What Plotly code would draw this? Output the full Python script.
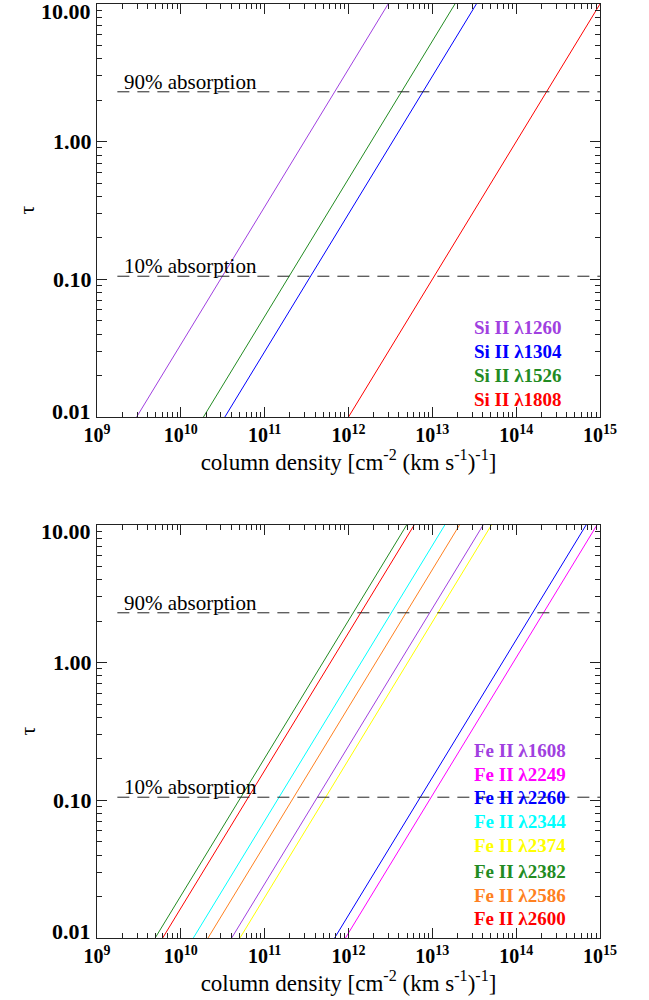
import plotly.graph_objects as go
from plotly.subplots import make_subplots
import math

# ---- data (column density at tau = 0.01) ----
si_labels = ["Si II λ1260", "Si II λ1304", "Si II λ1526", "Si II λ1808"]
si_n_at_tau001 = [2.97e9, 3.35e10, 1.86e10, 1.0e12]
si_colors = ["#a040e0", "#0000ff", "#228b22", "#ff0000"]

fe_labels = ["Fe II λ1608", "Fe II λ2249", "Fe II λ2260", "Fe II λ2344",
             "Fe II λ2374", "Fe II λ2382", "Fe II λ2586", "Fe II λ2600"]
fe_n_at_tau001 = [4.04e10, 9.2e11, 6.83e11, 1.41e10, 5.07e10, 4.94e9, 2.11e10, 6.07e9]
fe_colors = ["#a040e0", "#ff00ff", "#0000ff", "#00ffff",
             "#ffff00", "#228b22", "#ff8020", "#ff0000"]

tau_range = [0.01, 10.0]
tau_90 = math.log(10.0)          # 90% absorption
tau_10 = -math.log(0.9)          # 10% absorption
dash_x = [1.75e9, 1e15]

x_tickvals = [1e9, 1e10, 1e11, 1e12, 1e13, 1e14, 1e15]
x_ticktext = ["10<sup>9</sup>", "10<sup>10</sup>", "10<sup>11</sup>", "10<sup>12</sup>",
              "10<sup>13</sup>", "10<sup>14</sup>", "10<sup>15</sup>"]
y_tickvals = [0.01, 0.1, 1, 10]
y_ticktext = ["0.01", "0.10", "1.00", "10.00"]

FONT = "Liberation Serif, Times New Roman, serif"

fig = make_subplots(rows=2, cols=1, vertical_spacing=0.0)

def add_panel(row, labels, n0s, colors):
    for lab, n0, col in zip(labels, n0s, colors):
        xs = [n0 * t / tau_range[0] for t in tau_range]
        fig.add_trace(go.Scatter(x=xs, y=tau_range, mode="lines",
                                 line=dict(color=col, width=1), name=lab,
                                 showlegend=False, hoverinfo="skip"), row=row, col=1)
    for t in (tau_90, tau_10):
        fig.add_trace(go.Scatter(x=dash_x, y=[t, t], mode="lines",
                                 line=dict(color="#222222", width=1, dash="12px,8px"),
                                 showlegend=False, hoverinfo="skip"), row=row, col=1)

add_panel(1, si_labels, si_n_at_tau001, si_colors)
add_panel(2, fe_labels, fe_n_at_tau001, fe_colors)

minor_x = [k * 10 ** e for e in range(9, 15) for k in range(2, 10)]
minor_y = [k * 10 ** e for e in range(-2, 1) for k in range(2, 10)]

axis_common = dict(type="log", showgrid=False, zeroline=False, showline=True,
                   linecolor="#222222", linewidth=1, mirror="allticks", automargin=False,
                   ticks="inside", ticklen=10, tickwidth=1, tickcolor="#222222")

# middle y tick labels drawn by the axis, end labels (nudged inward) as annotations
inner_text = ["" if v in (y_tickvals[0], y_tickvals[-1]) else t for v, t in zip(y_tickvals, y_ticktext)]

for r in (1, 2):
    fig.update_xaxes(range=[9, 15], tickmode="array", tickvals=x_tickvals, ticktext=x_ticktext,
                     minor=dict(tickmode="array", tickvals=minor_x, ticks="inside", ticklen=5,
                                tickcolor="#222222"),
                     tickfont=dict(family=FONT, size=20, color="black", weight="bold"),
                     title=dict(text="column density [cm<sup>-2</sup> (km s<sup>-1</sup>)<sup>-1</sup>]",
                                font=dict(family=FONT, size=23, color="black"), standoff=8),
                     **axis_common, row=r, col=1)
    fig.update_yaxes(range=[-2, 1], tickmode="array", tickvals=y_tickvals, ticktext=inner_text,
                     minor=dict(tickmode="array", tickvals=minor_y, ticks="inside", ticklen=5,
                                tickcolor="#222222"),
                     tickfont=dict(family=FONT, size=22, color="black", weight="bold"),
                     **axis_common, row=r, col=1)

# plot areas: top panel y=4..417 px, bottom panel y=525..938 px
fig.update_layout(
    yaxis=dict(domain=[0.5578, 1.0]),
    yaxis2=dict(domain=[0.0, 0.4422]),
)

annotations = []
for xref, yref in (("x", "y"), ("x2", "y2")):
    for t, txt in ((tau_90, "90% absorption"), (tau_10, "10% absorption")):
        annotations.append(dict(x=9.3, y=math.log10(t), xref=xref, yref=yref, text=txt,
                                showarrow=False, xanchor="left", yanchor="bottom", yshift=-4,
                                font=dict(family=FONT, size=21, color="black")))
    for v, txt, shift in ((y_tickvals[-1], y_ticktext[-1], -7), (y_tickvals[0], y_ticktext[0], 6)):
        annotations.append(dict(x=0, y=math.log10(v), xref=xref + " domain", yref=yref, text=txt,
                                showarrow=False, xanchor="right", yanchor="middle",
                                xshift=-4, yshift=shift,
                                font=dict(family=FONT, size=22, color="black", weight="bold")))
    # y-axis title (tau), rotated like an axis title
    annotations.append(dict(x=0, y=0.5, xref=xref + " domain", yref=yref + " domain", text="τ",
                            showarrow=False, textangle=-90, xanchor="center", yanchor="middle",
                            xshift=-70, font=dict(family=FONT, size=22, color="black")))

si_y = [0.2179, 0.1598, 0.1017, 0.0436]
for lab, col, yy in zip(si_labels, si_colors, si_y):
    annotations.append(dict(x=13.475, y=yy, xref="x", yref="y domain", text=lab,
                            showarrow=False, xanchor="left", yanchor="middle",
                            font=dict(family=FONT, size=19, color=col, weight="bold")))
fe_y = [0.4528, 0.3947, 0.3390, 0.2809, 0.2228, 0.1622, 0.1017, 0.0484]
for lab, col, yy in zip(fe_labels, fe_colors, fe_y):
    annotations.append(dict(x=13.475, y=yy, xref="x2", yref="y2 domain", text=lab,
                            showarrow=False, xanchor="left", yanchor="middle",
                            font=dict(family=FONT, size=19, color=col, weight="bold")))

fig.update_layout(
    width=649, height=1000,
    margin=dict(l=97, r=49, t=4, b=62, autoexpand=False),
    plot_bgcolor="white", paper_bgcolor="white",
    annotations=annotations,
    showlegend=False,
)

fig.write_html("out.html")
